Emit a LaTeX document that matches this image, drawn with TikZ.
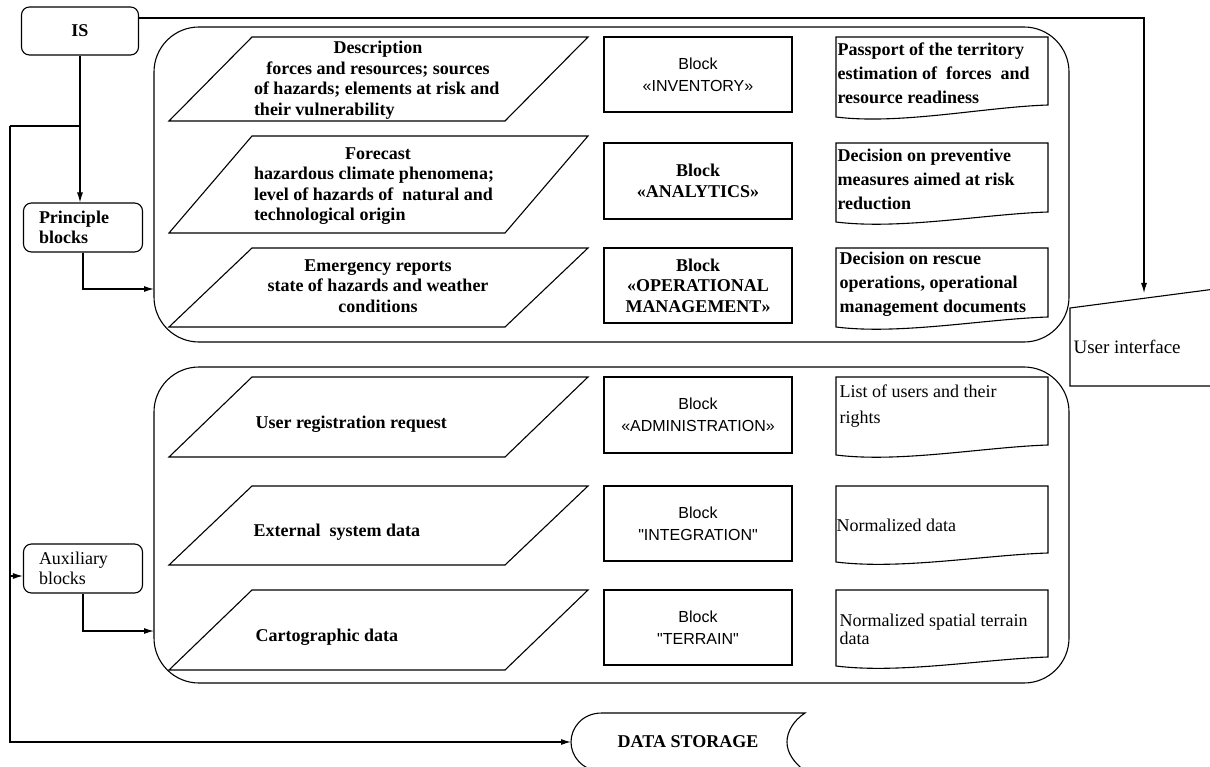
\documentclass[tikz,border=0pt]{standalone}
\usepackage{fontspec}
\setmainfont{Liberation Serif}
\newfontfamily\blksans{Liberation Sans}
\usetikzlibrary{arrows.meta}

\begin{document}
\begin{tikzpicture}[x=1pt, y=-1pt, line width=1.1pt,
        every node/.style={inner sep=0pt},
        bt/.style={font=\fontsize{18}{20.5}\selectfont\bfseries},
        rt/.style={font=\fontsize{18}{20.5}\selectfont},
        st/.style={font=\blksans\fontsize{16}{22}\selectfont},
        rbox/.style={draw, rounded corners=8pt, minimum width=119pt, minimum height=49pt},
        grp/.style={draw, rounded corners=45pt, minimum width=915pt},
        blk/.style={draw, minimum width=188pt, minimum height=75pt, align=center},
        conn/.style={-{Latex[length=10pt,width=6pt]}}]
        \useasboundingbox (0,0) rectangle (1210,767);
        \clip (0,0) rectangle (1210,767);
        \node[rbox, bt, minimum width=117pt, minimum height=48pt] (is) at (80,31) {IS};
        \node[rbox, bt, text width=88pt, align=left] (prin) at (83,227.5) {Principle\\blocks};
        \node[rbox, rt, text width=88pt, align=left] (aux) at (83,568.5) {Auxiliary\\blocks};
        \node[grp, minimum height=315pt] (grp1) at (611.5,184.5) {};
        \node[grp, minimum height=316pt] (grp2) at (611.5,525) {};
        \foreach \t/\b in {37/121, 136/233, 248/327, 377/457, 486/565, 590/670}
            \draw (252,\t) -- (588,\t) -- (505,\b) -- (169,\b) -- cycle;
        \foreach \t/\r/\l in {37/105/117, 143/212/222, 248/317/327, 377/445/455, 486/553/562, 590/657/666}
            \draw (836,\t) -- (1048,\t) -- (1048,\r) .. controls (985,\r+2) and (900,\l+8) .. (836,\l) -- cycle;
        \node[bt, align=left] (desc) at (378,80) {\makebox[248pt]{Description}\\\makebox[248pt]{forces and  resources; sources}\\of hazards; elements at risk and\\their vulnerability};
        \node[bt, align=left] (fcst) at (378,186) {\makebox[248pt]{Forecast}\\hazardous climate phenomena;\\level of hazards of \ natural and\\technological origin};
        \node[bt, align=center] (emrg) at (378,286) {Emergency reports\\state of hazards and weather\\conditions};
        \node[bt, anchor=west] (ureq) at (255,424) {User registration request};
        \node[bt, anchor=west] (ext) at (253,532) {External \ system data};
        \node[bt, anchor=west] (carto) at (255,637) {Cartographic data};
        \node[blk, st] (inv) at (698,74.5) {Block\\«INVENTORY»};
        \node[blk, bt, minimum height=76pt] (anl) at (698,181) {Block\\«ANALYTICS»};
        \node[blk, bt] (opm) at (698,285.5) {Block\\«OPERATIONAL\\MANAGEMENT»};
        \node[blk, st, minimum height=76pt] (adm) at (698,415) {Block\\«ADMINISTRATION»};
        \node[blk, st] (intg) at (698,523.5) {Block\\"INTEGRATION"};
        \node[blk, st] (terr) at (698,627.5) {Block\\"TERRAIN"};
        \node[bt, font=\fontsize{18}{24}\selectfont\bfseries, anchor=west, align=left] (pass) at (837,73) {Passport of the territory\\estimation of \ forces \ and\\resource readiness};
        \node[bt, font=\fontsize{18}{24}\selectfont\bfseries, anchor=west, align=left] (prev) at (837,179) {Decision on preventive\\measures aimed at risk\\reduction};
        \node[bt, font=\fontsize{18}{24}\selectfont\bfseries, anchor=west, align=left] (resc) at (839,284) {Decision on rescue\\operations, operational\\management documents};
        \node[font=\fontsize{18}{26}\selectfont, anchor=west, align=left] (users) at (839,406) {List of users and their\\rights};
        \node[rt, anchor=west] (norm) at (836,525) {Normalized data};
        \node[font=\fontsize{18}{18}\selectfont, anchor=west, align=left] (spat) at (839,629) {Normalized spatial terrain\\data};
        \draw (1070,308) -- (1215,289) -- (1215,386) -- (1070,386) -- cycle;
        \node[font=\fontsize{19}{22}\selectfont, anchor=west] (ui) at (1073,347) {User interface};
        \draw (602,713) .. controls (582,713) and (571,728) .. (571,742) .. controls (571,756) and (582,771) .. (602,771) -- (805,771) .. controls (793,762) and (787,752) .. (787,742) .. controls (787,732) and (793,721) .. (805,713) -- cycle;
        \node[bt] (store) at (688,742) {DATA STORAGE};
        \coordinate (bus) at (10,126);
        \coordinate (in1) at (154,289);
        \coordinate (in2) at (154,631);
        \coordinate (auxin) at ([yshift=-7.5pt]aux.west);
        \coordinate (uitop) at (1144,293);
        \coordinate (storein) at (571,742);
        \draw[conn] (is.south) -- (is.south |- prin.north);
        \draw (is.south |- bus) -- (bus);
        \draw[conn] (bus) |- (storein);
        \draw[conn] (bus |- auxin) -- (auxin);
        \draw[conn] (prin.south) |- (in1);
        \draw[conn] (aux.south) |- (in2);
        \draw[conn] ([yshift=13pt]is.east) -| (uitop);
\end{tikzpicture}
\end{document}
